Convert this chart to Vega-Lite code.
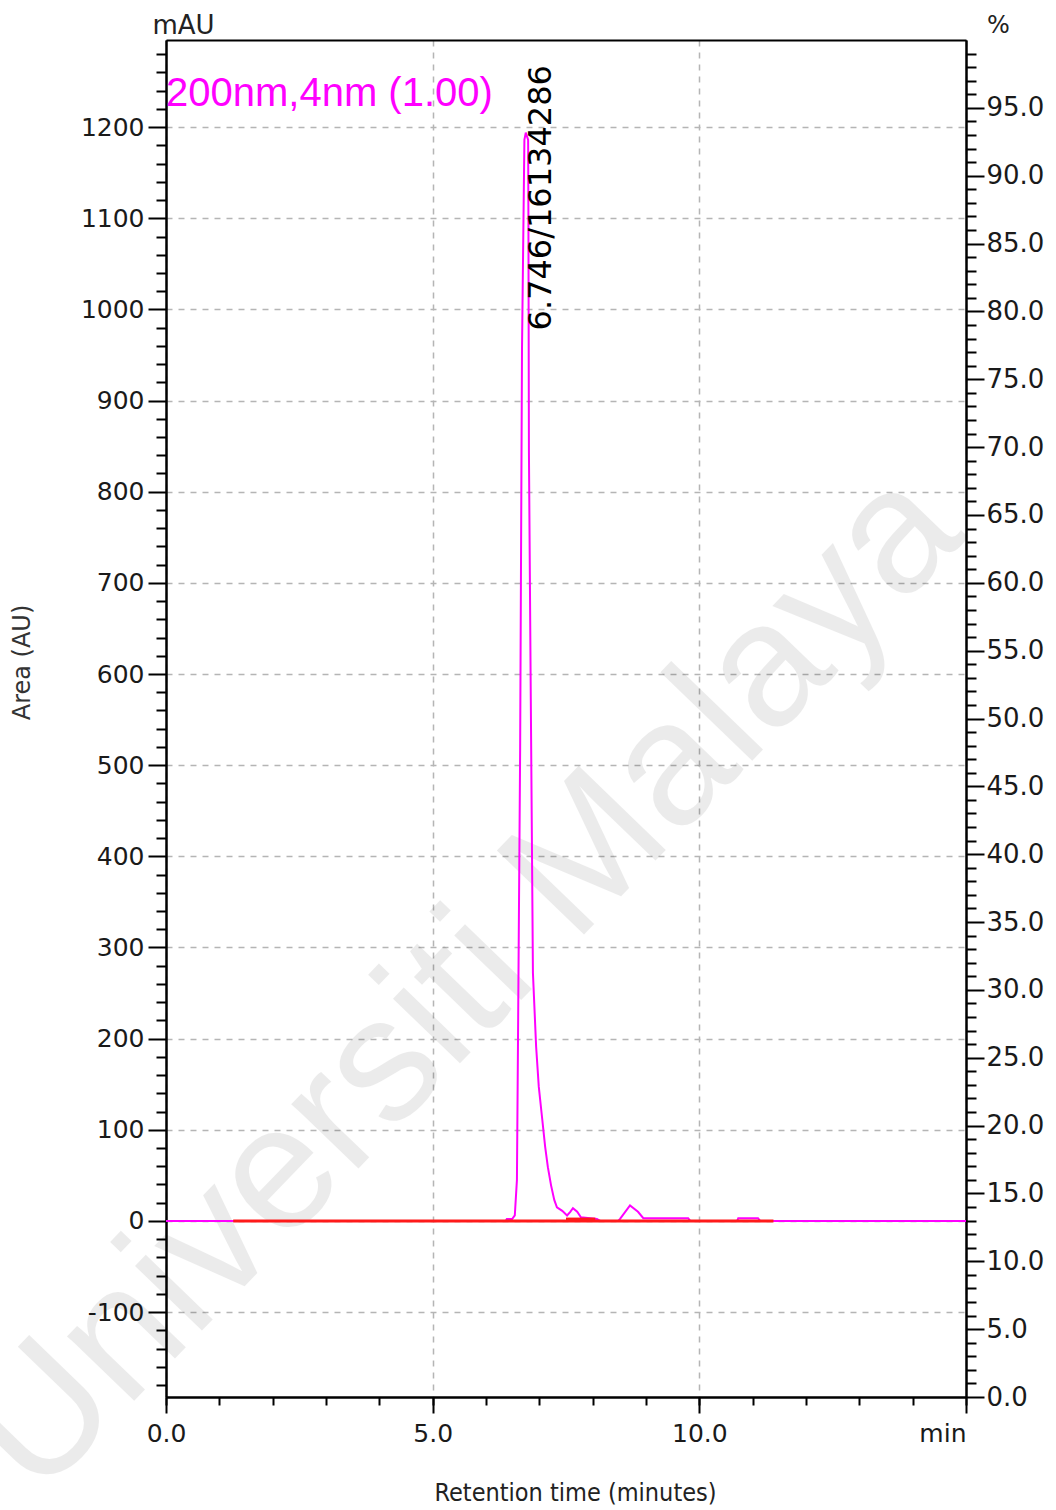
{
  "$schema": "https://vega.github.io/schema/vega-lite/v6.json",
  "width": 800,
  "height": 1357,
  "autosize": "none",
  "padding": {"left": 166, "top": 40, "right": 90, "bottom": 113},
  "background": "white",
  "view": {"stroke": null},
  "config": {
    "axis": {
      "domainColor": "#000000",
      "domainWidth": 2,
      "tickColor": "#000000",
      "tickWidth": 2,
      "labelFont": "DejaVu Sans",
      "labelFontSize": 25,
      "labelColor": "#1a1a1a",
      "labelFlush": false,
      "labelOverlap": false,
      "titleFontWeight": "normal",
      "titleColor": "#222222"
    }
  },
  "datasets": {
    "signal": [
      {"t": 0, "v": 0}, {"t": 6.37, "v": 0}, {"t": 6.39, "v": 2}, {"t": 6.49, "v": 2},
      {"t": 6.54, "v": 6}, {"t": 6.58, "v": 45}, {"t": 6.6, "v": 198}, {"t": 6.64, "v": 516},
      {"t": 6.675, "v": 957}, {"t": 6.72, "v": 1186}, {"t": 6.746, "v": 1194}, {"t": 6.79, "v": 1186},
      {"t": 6.795, "v": 1106}, {"t": 6.805, "v": 843}, {"t": 6.84, "v": 572}, {"t": 6.88, "v": 272},
      {"t": 6.94, "v": 191}, {"t": 6.99, "v": 147}, {"t": 7.05, "v": 114}, {"t": 7.11, "v": 81},
      {"t": 7.16, "v": 59}, {"t": 7.22, "v": 39}, {"t": 7.28, "v": 23}, {"t": 7.33, "v": 15},
      {"t": 7.43, "v": 11}, {"t": 7.52, "v": 6}, {"t": 7.58, "v": 10}, {"t": 7.63, "v": 14},
      {"t": 7.71, "v": 10}, {"t": 7.78, "v": 4}, {"t": 8.08, "v": 2}, {"t": 8.14, "v": 0},
      {"t": 8.48, "v": 0}, {"t": 8.51, "v": 2}, {"t": 8.7, "v": 17}, {"t": 8.85, "v": 10},
      {"t": 8.95, "v": 3}, {"t": 9.79, "v": 3}, {"t": 9.83, "v": 0}, {"t": 10.71, "v": 0},
      {"t": 10.73, "v": 3}, {"t": 11.1, "v": 3}, {"t": 11.14, "v": 0}, {"t": 15, "v": 0}
    ],
    "baseline": [
      {"seg": "main", "t": 1.26, "v": 0}, {"seg": "main", "t": 11.39, "v": 0},
      {"seg": "p2", "t": 7.5, "v": 2}, {"seg": "p2", "t": 8.05, "v": 2}
    ],
    "peaks": [
      {"rt": 6.746, "area": 16134286, "pos": 78.6, "label": "6.746/16134286"}
    ],
    "notes": [
      {"t": 0, "pct": 96.0, "text": "200nm,4nm (1.00)"}
    ],
    "marks": [
      {"t": 5.6, "v": 262, "text": "Universiti Malaya"}
    ]
  },
  "layer": [
    {
      "data": {"name": "marks"},
      "mark": {"type": "text", "angle": 314, "align": "center", "baseline": "middle", "font": "Liberation Sans", "fontSize": 176, "color": "#000000", "opacity": 0.075},
      "encoding": {
        "x": {"field": "t", "type": "quantitative", "scale": {"domain": [0, 15], "nice": false, "zero": false},
          "axis": {"orient": "top", "domain": true, "ticks": false, "labels": false, "grid": false, "title": null}},
        "y": {"field": "v", "type": "quantitative", "scale": {"domain": [-193.2, 1295.6], "nice": false, "zero": false}, "axis": null},
        "text": {"field": "text"}
      }
    },
    {
      "data": {"name": "signal"},
      "mark": {"type": "line", "color": "#ff00ff", "strokeWidth": 2},
      "encoding": {
        "x": {"field": "t", "type": "quantitative", "scale": {"domain": [0, 15], "nice": false, "zero": false},
          "axis": {"orient": "bottom", "values": [0, 5, 10, 15], "tickSize": 16, "labelPadding": 8,
            "labelExpr": "datum.value == 15 ? 'min' : format(datum.value, '.1f')",
            "labelAlign": {"condition": {"test": "datum.value == 15", "value": "right"}, "value": "center"},
            "grid": true, "gridDash": [6, 6], "gridColor": "#b5b5b5", "gridWidth": 1.5, "title": null}},
        "y": {"field": "v", "type": "quantitative", "scale": {"domain": [-193.2, 1295.6], "nice": false, "zero": false},
          "axis": {"orient": "left", "values": [-100, 0, 100, 200, 300, 400, 500, 600, 700, 800, 900, 1000, 1100, 1200],
            "labelExpr": "'' + datum.value",
            "tickSize": 18, "labelPadding": 4, "grid": true, "gridDash": [6, 6], "gridColor": "#b5b5b5", "gridWidth": 1.5,
            "title": "mAU", "titleAngle": 0, "titleX": 17, "titleY": -15, "titleAlign": "center", "titleBaseline": "middle",
            "titleFont": "DejaVu Sans", "titleFontSize": 26}}
      }
    },
    {
      "data": {"name": "baseline"},
      "mark": {"type": "line", "color": "#ff1a1a", "strokeWidth": 3},
      "encoding": {
        "x": {"field": "t", "type": "quantitative", "scale": {"domain": [0, 15], "nice": false, "zero": false},
          "axis": {"orient": "bottom", "values": [0, 1, 2, 3, 4, 5, 6, 7, 8, 9, 10, 11, 12, 13, 14, 15], "tickSize": 8,
            "labels": false, "grid": false,
            "title": "Retention time (minutes)", "titleX": 409, "titleY": 95, "titleAlign": "center", "titleBaseline": "middle",
            "titleFont": "DejaVu Sans Condensed, sans-serif", "titleFontSize": 25}},
        "y": {"field": "v", "type": "quantitative", "scale": {"domain": [-193.2, 1295.6], "nice": false, "zero": false},
          "axis": {"orient": "left",
            "values": [-180, -160, -140, -120, -80, -60, -40, -20, 20, 40, 60, 80, 120, 140, 160, 180, 220, 240, 260, 280, 320, 340, 360, 380, 420, 440, 460, 480, 520, 540, 560, 580, 620, 640, 660, 680, 720, 740, 760, 780, 820, 840, 860, 880, 920, 940, 960, 980, 1020, 1040, 1060, 1080, 1120, 1140, 1160, 1180, 1220, 1240, 1260, 1280],
            "tickSize": 10, "labels": false, "grid": false,
            "title": "Area (AU)", "titleAngle": 270, "titleX": -144, "titleY": 622, "titleAlign": "center", "titleBaseline": "middle",
            "titleFont": "DejaVu Sans", "titleFontSize": 24, "titleColor": "#333333"}},
        "detail": {"field": "seg"}
      }
    },
    {
      "data": {"name": "notes"},
      "mark": {"type": "text", "align": "left", "baseline": "middle", "font": "Liberation Sans", "fontSize": 40, "color": "#ff00ff"},
      "encoding": {
        "x": {"field": "t", "type": "quantitative", "scale": {"domain": [0, 15], "nice": false, "zero": false}, "axis": null},
        "y": {"field": "pct", "type": "quantitative", "scale": {"domain": [0, 100], "nice": false, "zero": false},
          "axis": {"orient": "right", "values": [0, 5, 10, 15, 20, 25, 30, 35, 40, 45, 50, 55, 60, 65, 70, 75, 80, 85, 90, 95],
            "labelExpr": "format(datum.value, '.1f')", "tickSize": 18, "labelPadding": 2, "grid": false, "labelFontSize": 26,
            "title": "%", "titleAngle": 0, "titleX": 32, "titleY": -15, "titleAlign": "center", "titleBaseline": "middle",
            "titleFont": "DejaVu Sans", "titleFontSize": 24}},
        "text": {"field": "text"}
      }
    },
    {
      "data": {"name": "peaks"},
      "mark": {"type": "text", "angle": 270, "align": "left", "baseline": "top", "font": "DejaVu Sans", "fontSize": 32, "color": "#000000"},
      "encoding": {
        "x": {"field": "rt", "type": "quantitative", "scale": {"domain": [0, 15], "nice": false, "zero": false}, "axis": null},
        "y": {"field": "pos", "type": "quantitative", "scale": {"domain": [0, 100], "nice": false, "zero": false},
          "axis": {"orient": "right",
            "values": [1, 2, 3, 4, 6, 7, 8, 9, 11, 12, 13, 14, 16, 17, 18, 19, 21, 22, 23, 24, 26, 27, 28, 29, 31, 32, 33, 34, 36, 37, 38, 39, 41, 42, 43, 44, 46, 47, 48, 49, 51, 52, 53, 54, 56, 57, 58, 59, 61, 62, 63, 64, 66, 67, 68, 69, 71, 72, 73, 74, 76, 77, 78, 79, 81, 82, 83, 84, 86, 87, 88, 89, 91, 92, 93, 94, 96, 97, 98, 99],
            "tickSize": 10, "labels": false, "grid": false, "title": null}},
        "text": {"field": "label"}
      }
    }
  ],
  "resolve": {
    "scale": {"x": "independent", "y": "independent"},
    "axis": {"x": "independent", "y": "independent"}
  }
}
